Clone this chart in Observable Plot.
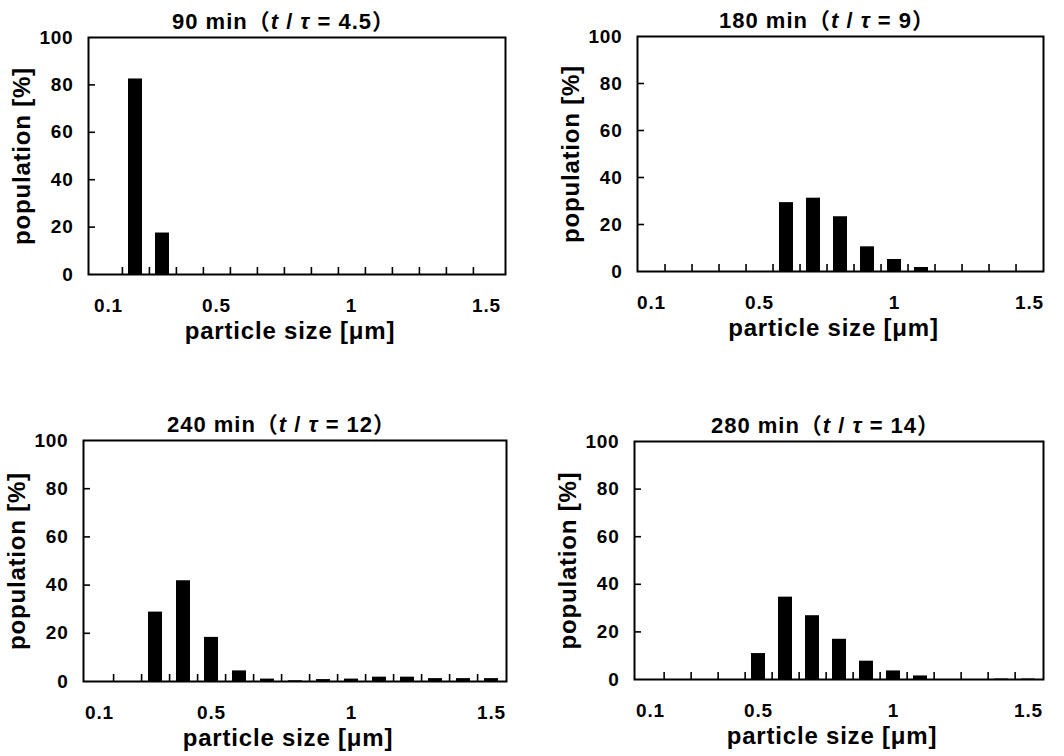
<!DOCTYPE html>
<html>
<head>
<meta charset="utf-8">
<script src="https://cdn.jsdelivr.net/npm/d3@7"></script>
<script src="https://cdn.jsdelivr.net/npm/@observablehq/plot@0.6"></script>
<style>
  body { margin: 0; background: #fff; }
  #chart { position: relative; width: 1064px; height: 756px; overflow: hidden; background: #fff; }
  #chart svg { position: absolute; overflow: visible; }
</style>
</head>
<body>
<div id="chart"></div>
<script>
// ---- data ----
const sizes = ["0.1","0.2","0.3","0.4","0.5","0.6","0.7","0.8","0.9","1","1.1","1.2","1.3","1.4","1.5"];
const xTickLabels = ["0.1","0.5","1","1.5"];
const yTicks = [0, 20, 40, 60, 80, 100];
const titleMinutes = ["90 min", "180 min", "240 min", "280 min"];
const titleRatio = ["4.5", "9", "12", "14"];
const xTitle = "particle size [μm]";
const yTitle = "population [%]";
const pop90  = [0, 82.5, 17.5, 0, 0, 0, 0, 0, 0, 0, 0, 0, 0, 0, 0];
const pop180 = [0, 0, 0, 0, 0, 29.3, 31.2, 23.3, 10.5, 5.1, 1.7, 0, 0, 0, 0];
const pop240 = [0, 0, 28.8, 41.8, 18.3, 4.4, 1.0, 0.3, 0.8, 1.0, 1.8, 1.8, 1.2, 1.2, 1.2];
const pop280 = [0, 0, 0, 0, 10.9, 34.6, 26.8, 16.9, 7.7, 3.6, 1.5, 0, 0, 0.2, 0.2];
const series = [pop90, pop180, pop240, pop280];

// ---- layout (frame edges in page pixels) ----
const frames = [
  {L: 88,  R: 505,  T: 37,  B: 274},
  {L: 637, R: 1043, T: 36,  B: 271},
  {L: 83,  R: 506,  T: 440, B: 681},
  {L: 634, R: 1043, T: 441, B: 679}
];
const ML = 80, MR = 12, MT = 34, MB = 72;
const FONT = "'Liberation Sans', Arial, 'Noto Sans CJK JP', sans-serif";

const chart = document.getElementById("chart");

series.forEach((vals, i) => {
  const f = frames[i];
  const W = f.R - f.L, H = f.B - f.T;
  const step = W / sizes.length;
  const rows = sizes.map((s, j) => ({size: s, pop: vals[j]}));

  const svg = Plot.plot({
    width: W + ML + MR,
    height: H + MT + MB,
    marginLeft: ML, marginRight: MR, marginTop: MT, marginBottom: MB,
    style: {fontFamily: FONT, fontWeight: "bold", color: "black", background: "white", letterSpacing: "0.8px"},
    x: {type: "band", domain: sizes, paddingInner: 0.5, paddingOuter: 0.25},
    y: {domain: [0, 100]},
    marks: [
      Plot.barY(rows, {x: "size", y: "pop", fill: "black"}),
      Plot.ruleX(sizes.slice(0, -1), {x: d => d, dx: step / 2, insetTop: H - 7, stroke: "black", strokeWidth: 1.6}),
      Plot.ruleY(yTicks.slice(1, -1), {y: d => d, insetRight: W - 7, stroke: "black", strokeWidth: 1.6}),
      Plot.frame({stroke: "black", strokeWidth: 2}),
      Plot.axisX({ticks: xTickLabels, tickSize: 0, tickPadding: 24, fontSize: 19, label: null}),
      Plot.axisY({ticks: yTicks, tickSize: 0, tickPadding: 15, fontSize: 19, label: null}),
      Plot.text([yTitle], {text: d => d, frameAnchor: "left", rotate: -90, dx: -66, textAnchor: "middle", lineAnchor: "middle", fontSize: 24}),
      Plot.text([xTitle], {text: d => d, frameAnchor: "bottom", dx: -7, dy: 57, textAnchor: "middle", lineAnchor: "middle", fontSize: 24})
    ]
  });

  svg.style.left = (f.L - ML) + "px";
  svg.style.top = (f.T - MT) + "px";

  const t = d3.select(svg).append("text")
    .attr("x", ML + W / 2 - 13)
    .attr("y", MT - 8)
    .attr("text-anchor", "middle")
    .attr("font-size", 22)
    .attr("font-family", FONT)
    .attr("font-weight", "bold")
    .attr("letter-spacing", "1px")
    .attr("fill", "black");
  t.append("tspan").text(titleMinutes[i] + "（");
  t.append("tspan").attr("font-style", "italic").text("t");
  t.append("tspan").text(" / ");
  t.append("tspan").attr("font-style", "italic").text("τ");
  t.append("tspan").text(" = " + titleRatio[i] + "）");

  chart.appendChild(svg);
});
</script>
</body>
</html>
